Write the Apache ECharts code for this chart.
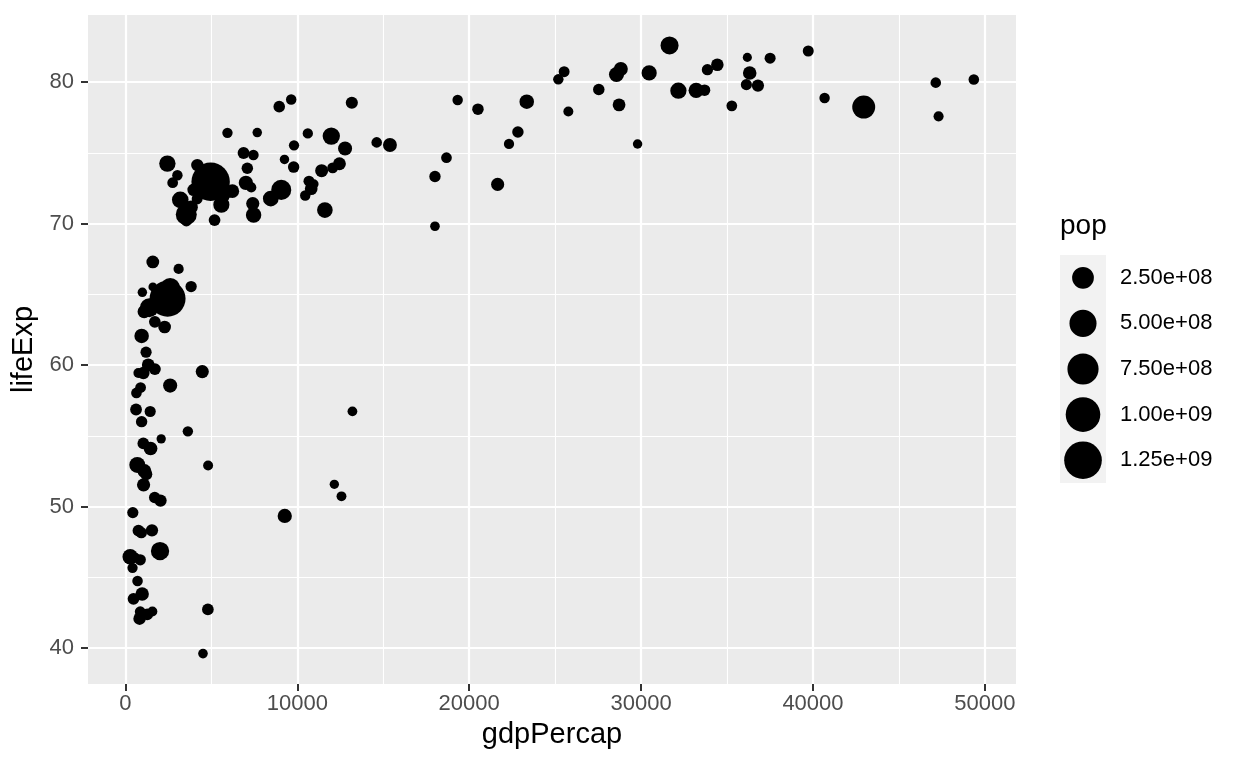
<!DOCTYPE html>
<html>
<head>
<meta charset="utf-8">
<script src="https://cdn.jsdelivr.net/npm/echarts@6/dist/echarts.min.js"></script>
<style>html,body{margin:0;padding:0;background:#fff}#chart{width:1248px;height:768px}</style>
</head>
<body>
<div id="chart"></div>
<script>
// Gapminder 2007
const countries = ["Afghanistan","Albania","Algeria","Angola","Argentina","Australia","Austria","Bahrain","Bangladesh","Belgium","Benin","Bolivia","Bosnia and Herzegovina","Botswana","Brazil","Bulgaria","Burkina Faso","Burundi","Cambodia","Cameroon","Canada","Central African Republic","Chad","Chile","China","Colombia","Comoros","Congo, Dem. Rep.","Congo, Rep.","Costa Rica","Cote d'Ivoire","Croatia","Cuba","Czech Republic","Denmark","Djibouti","Dominican Republic","Ecuador","Egypt","El Salvador","Equatorial Guinea","Eritrea","Ethiopia","Finland","France","Gabon","Gambia","Germany","Ghana","Greece","Guatemala","Guinea","Guinea-Bissau","Haiti","Honduras","Hong Kong, China","Hungary","Iceland","India","Indonesia","Iran","Iraq","Ireland","Israel","Italy","Jamaica","Japan","Jordan","Kenya","Korea, Dem. Rep.","Korea, Rep.","Kuwait","Lebanon","Lesotho","Liberia","Libya","Madagascar","Malawi","Malaysia","Mali","Mauritania","Mauritius","Mexico","Mongolia","Montenegro","Morocco","Mozambique","Myanmar","Namibia","Nepal","Netherlands","New Zealand","Nicaragua","Niger","Nigeria","Norway","Oman","Pakistan","Panama","Paraguay","Peru","Philippines","Poland","Portugal","Puerto Rico","Reunion","Romania","Rwanda","Sao Tome and Principe","Saudi Arabia","Senegal","Serbia","Sierra Leone","Singapore","Slovak Republic","Slovenia","Somalia","South Africa","Spain","Sri Lanka","Sudan","Swaziland","Sweden","Switzerland","Syria","Taiwan","Tanzania","Thailand","Togo","Trinidad and Tobago","Tunisia","Turkey","Uganda","United Kingdom","United States","Uruguay","Venezuela","Vietnam","West Bank and Gaza","Yemen, Rep.","Zambia","Zimbabwe"];
const gdpPercap = [974.58,5937.03,6223.37,4797.23,12779.38,34435.37,36126.49,29796.05,1391.25,33692.61,1441.28,3822.14,7446.30,12569.85,9065.80,10680.79,1217.03,430.07,1713.78,2042.10,36319.24,706.02,1704.06,13171.64,4959.11,7006.58,986.15,277.55,3632.56,9645.06,1544.75,14619.22,8948.10,22833.31,35278.42,2082.48,6025.37,6873.26,5581.18,5728.35,12154.09,641.37,690.81,33207.08,30470.02,13206.48,752.75,32170.37,1327.61,27538.41,5186.05,942.65,579.23,1201.64,3548.33,39724.98,18008.94,36180.79,2452.21,3540.65,11605.71,4471.06,40676.00,25523.28,28569.72,7320.88,31656.07,4519.46,1463.25,1593.07,23348.14,47306.99,10461.06,1569.33,414.51,12057.50,1044.77,759.35,12451.66,1042.58,1803.15,10956.99,11977.57,3095.77,9253.90,3820.18,823.69,944.00,4811.06,1091.36,36797.93,25185.01,2749.32,619.68,2013.98,49357.19,22316.19,2605.95,9809.19,4172.84,7408.91,3190.48,15389.92,20509.65,19328.71,7670.12,10808.48,863.09,1598.44,21654.83,1712.47,9786.53,862.54,47143.18,18678.31,25768.26,926.14,9269.66,28821.06,3970.10,2602.39,4513.48,33859.75,37506.42,4184.55,28718.28,1107.48,7458.40,882.97,18008.51,7092.92,8458.28,1056.38,33203.26,42951.65,10611.46,11415.81,2441.58,3025.35,2280.77,1271.21,469.71];
const lifeExp = [43.828,76.423,72.301,42.731,75.320,81.235,79.829,75.635,64.062,79.441,56.728,65.554,74.852,50.728,72.390,73.005,52.295,49.580,59.723,50.430,80.653,44.741,50.651,78.553,72.961,72.889,65.152,46.462,55.322,78.782,48.328,75.748,78.273,76.486,78.332,54.791,72.235,74.994,71.338,71.878,51.579,58.040,52.947,79.313,80.657,56.735,59.448,79.406,60.022,79.483,70.259,56.007,46.388,60.916,70.198,82.208,73.338,81.757,64.698,70.650,70.964,59.545,78.885,80.745,80.546,72.567,82.603,72.535,54.110,67.297,78.623,77.588,71.993,42.592,45.678,73.952,59.443,48.303,74.241,54.467,64.164,72.801,76.195,66.803,74.543,71.164,42.082,62.069,52.906,63.785,79.762,80.204,72.899,56.867,46.859,80.196,75.640,65.483,75.537,71.752,71.421,71.688,75.563,78.098,78.746,76.442,72.476,46.242,65.528,72.777,63.062,74.002,42.568,79.972,74.663,77.926,48.159,49.339,80.941,72.396,58.556,39.613,80.884,81.701,74.143,78.400,52.517,70.616,58.420,69.819,73.923,71.777,51.542,79.425,78.242,76.384,73.747,74.249,73.422,62.698,42.384,43.487];
const pop = [31889923,3600523,33333216,12420476,40301927,20434176,8199783,708573,150448339,10392226,8078314,9119152,4552198,1639131,190010647,7322858,14326203,8390505,14131858,17696293,33390141,4369038,10238807,16284741,1318683096,44227550,710960,64606759,3800610,4133884,18013409,4493312,11416987,10228744,5468120,496374,9319622,13755680,80264543,6939688,551201,4906585,76511887,5238460,61083916,1454867,1688359,82400996,22873338,10706290,12572928,9947814,1472041,8502814,7483763,6980412,9956108,301931,1110396331,223547000,69453570,27499638,4109086,6426679,58147733,2780132,127467972,6053193,35610177,23301725,49044790,2505559,3921278,2012649,3193942,6036914,19167654,13327079,24821286,12031795,3270065,1250882,108700891,2874127,684736,33757175,19951656,47761980,2055080,28901790,16570613,4115771,5675356,12894865,135031164,4627926,3204897,169270617,3242173,6667147,28674757,91077287,38518241,10642836,3942491,798094,22276056,8860588,199579,27601038,12267493,10150265,6144562,4553009,5447502,2009245,9118773,43997828,40448191,20378239,42292929,1133066,9031088,7554661,19314747,23174294,38139640,65068149,5701579,1056608,10276158,71158647,29170398,60776238,301139947,3447496,26084662,85262356,4018332,22211743,11746035,12311143];

const xMajorTicks = [0,10000,20000,30000,40000,50000];
const xMinorTicks = [5000,15000,25000,35000,45000];
const yMajorTicks = [40,50,60,70,80];
const yMinorTicks = [45,55,65,75];
const legendBreaks = [2.5e8,5e8,7.5e8,1e9,1.25e9];
const legendLabels = ["2.50e+08","5.00e+08","7.50e+08","1.00e+09","1.25e+09"];

// ggplot-like expanded limits (5%)
function expand(arr){const mn=Math.min(...arr),mx=Math.max(...arr),d=(mx-mn)*0.05;return [mn-d,mx+d];}
const xLim = expand(gdpPercap), yLim = expand(lifeExp);
const popMin = Math.min(...pop), popMax = Math.max(...pop);
function sizeOf(p){ // area scale, range 1..6 mapped to pixels
  const s = 1 + 5*Math.sqrt(Math.max(0,(p-popMin)/(popMax-popMin)));
  return 2.96 + 5.91*s;
}
const data = gdpPercap.map((g,i)=>[g, lifeExp[i], pop[i], countries[i]]);

const FONT = 'Liberation Sans, Arial, Helvetica, sans-serif';
const tickColor = '#4d4d4d';

const gridL=88, gridR=1016, gridT=15, gridB=684;

function axisBase(extra){ return Object.assign({
  type:'value', axisLine:{show:false,onZero:false},
  axisTick:{show:true,length:7,lineStyle:{color:'#333333',width:2}},
  splitLine:{show:true,lineStyle:{color:'#ffffff',width:2.2}},
}, extra); }

// legend graphic
const legX = 1060, legTitleY = 226, legKeyTop = 255, keySize = 45.6, keyW = 46;
const legendGraphics = [
  {type:'text', left:legX, top: legTitleY-14, style:{text:'pop', font:'28px '+FONT, fill:'#000'}},
  {type:'rect', shape:{x:legX, y:legKeyTop, width:keyW, height:keySize*legendBreaks.length}, style:{fill:'#f2f2f2'}}
];
legendBreaks.forEach((b,i)=>{
  const cy = legKeyTop + keySize*(i+0.5);
  legendGraphics.push({type:'circle', shape:{cx:legX+keyW/2, cy:cy, r:sizeOf(b)/2}, style:{fill:'#000'}});
  legendGraphics.push({type:'text', x:1120, y:cy, style:{text:legendLabels[i], font:'22px '+FONT, fill:'#000', verticalAlign:'middle', align:'left'}});
});

const chart = echarts.init(document.getElementById('chart'), null, {renderer:'canvas'});
chart.setOption({
  animation:false,
  backgroundColor:'#ffffff',
  textStyle:{fontFamily:FONT},
  grid:{left:gridL, top:gridT, width:gridR-gridL, height:gridB-gridT, show:true, backgroundColor:'#ebebeb', borderWidth:0, containLabel:false},
  xAxis:[
    axisBase({min:xLim[0], max:xLim[1],
      axisTick:{show:true,length:7,customValues:xMajorTicks,lineStyle:{color:'#333333',width:2}},
      axisLabel:{customValues:xMajorTicks, color:tickColor, fontSize:22, margin:9, fontFamily:FONT, formatter:(v)=>String(v)},
      name:'gdpPercap', nameLocation:'middle', nameGap:36, nameTextStyle:{fontSize:29, color:'#000', fontFamily:FONT}
    }),
    axisBase({min:xLim[0], max:xLim[1], position:'bottom',
      axisTick:{show:false,customValues:xMinorTicks},
      axisLabel:{show:false,customValues:xMinorTicks},
      splitLine:{show:true,lineStyle:{color:'#ffffff',width:1.1}}
    })
  ],
  yAxis:[
    axisBase({min:yLim[0], max:yLim[1],
      axisTick:{show:true,length:7,customValues:yMajorTicks,lineStyle:{color:'#333333',width:2}},
      axisLabel:{customValues:yMajorTicks, color:tickColor, fontSize:22, margin:14, fontFamily:FONT, formatter:(v)=>String(v)},
      name:'lifeExp', nameLocation:'middle', nameGap:46, nameRotate:90, nameTextStyle:{fontSize:29, color:'#000', fontFamily:FONT}
    }),
    axisBase({min:yLim[0], max:yLim[1], position:'left',
      axisTick:{show:false,customValues:yMinorTicks},
      axisLabel:{show:false,customValues:yMinorTicks},
      splitLine:{show:true,lineStyle:{color:'#ffffff',width:1.1}}
    })
  ],
  series:[{
    type:'scatter', xAxisIndex:0, yAxisIndex:0,
    data:data,
    symbol:'circle',
    symbolSize:(v)=>sizeOf(v[2]),
    itemStyle:{color:'#000000', opacity:1},
    emphasis:{disabled:true},
    z:5
  }],
  graphic:legendGraphics
});
</script>
</body>
</html>
